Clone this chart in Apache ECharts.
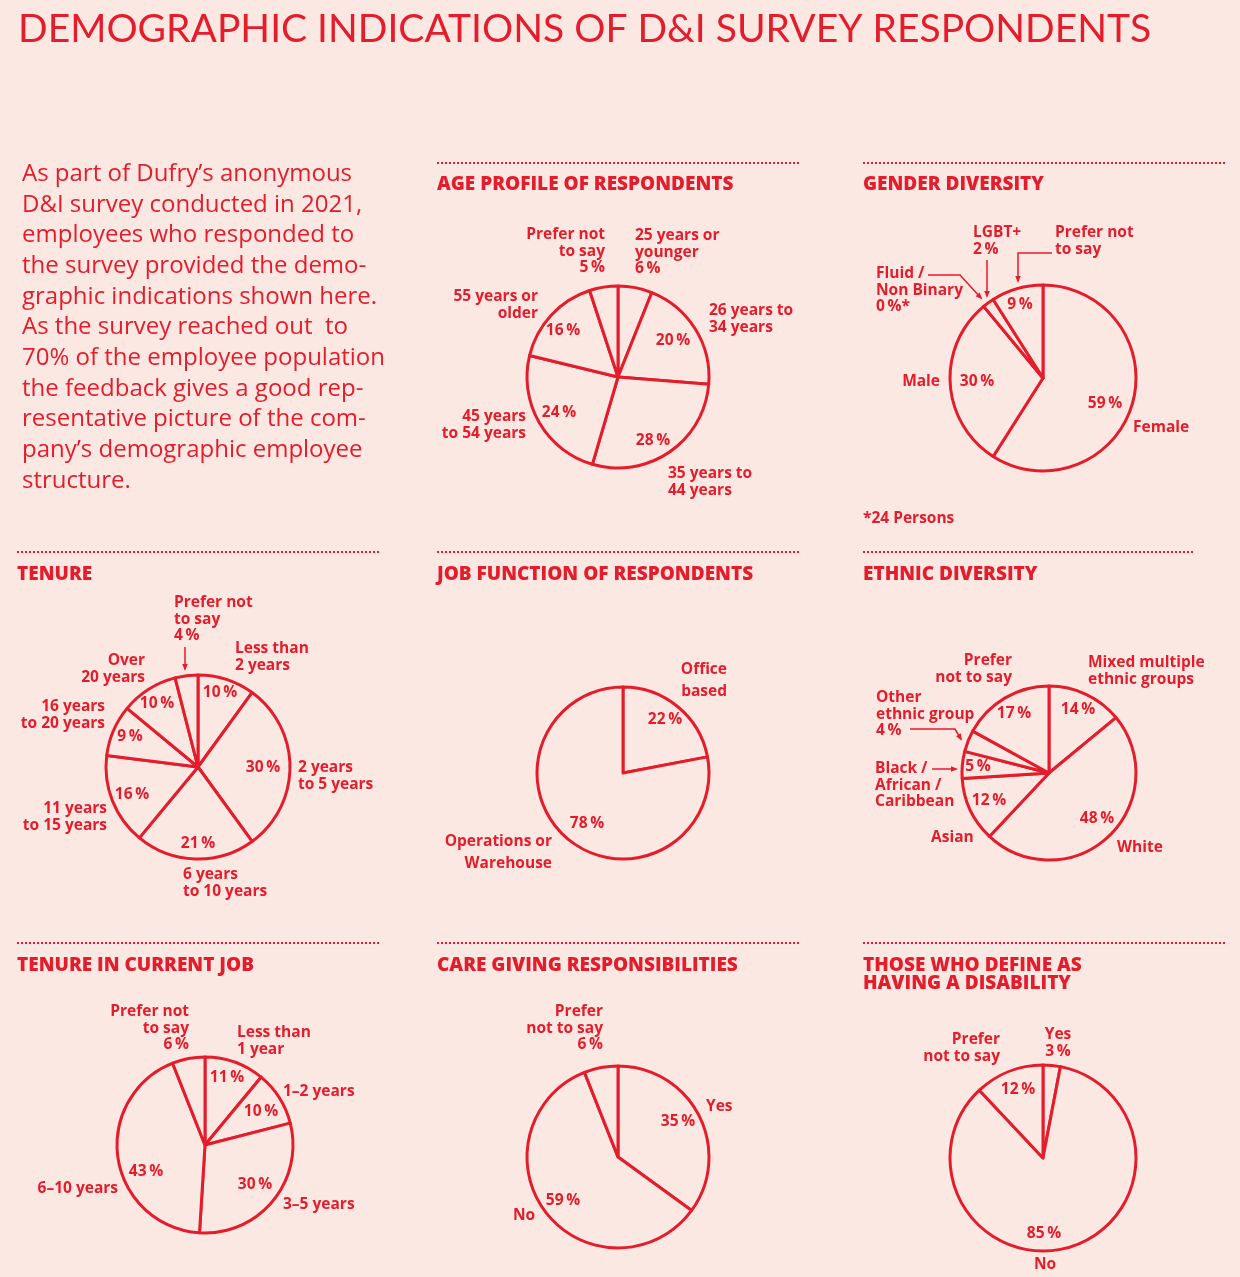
<!DOCTYPE html>
<html>
<head>
<meta charset="utf-8">
<script src="https://cdn.jsdelivr.net/npm/echarts@6/dist/echarts.min.js"></script>
<style>
  html, body { margin: 0; padding: 0; background: #fce8e2; }
  #chart { width: 1240px; height: 1277px; }
</style>
</head>
<body>
<div id="chart"></div>
<script>
// ---------------- DATA ----------------
const pageTitle = 'DEMOGRAPHIC INDICATIONS OF D&I SURVEY RESPONDENTS';
const introLines = [
  "As part of Dufry\u2019s anonymous",
  "D&I survey conducted in 2021,",
  "employees who responded to",
  "the survey provided the demo-",
  "graphic indications shown here.",
  "As the survey reached out  to",
  "70% of the employee population",
  "the feedback gives a good rep-",
  "resentative picture of the com-",
  "pany\u2019s demographic employee",
  "structure."
];

const ageCategories = ['25 years or\nyounger', '26 years to\n34 years', '35 years to\n44 years', '45 years\nto 54 years', '55 years or\nolder', 'Prefer not\nto say'];
const ageValues = [6, 20, 28, 24, 16, 5];

const genderCategories = ['Female', 'Male', 'Fluid /\nNon Binary', 'LGBT+', 'Prefer not\nto say'];
const genderValues = [59, 30, 0, 2, 9];
const genderNotes = ['', '', '*', '', ''];
const genderFootnote = '*24 Persons';

const tenureCategories = ['Less than\n2 years', '2 years\nto 5 years', '6 years\nto 10 years', '11 years\nto 15 years', '16 years\nto 20 years', 'Over\n20 years', 'Prefer not\nto say'];
const tenureValues = [10, 30, 21, 16, 9, 10, 4];

const jobCategories = ['Office\nbased', 'Operations or\nWarehouse'];
const jobValues = [22, 78];

const ethnicCategories = ['Mixed multiple\nethnic groups', 'White', 'Asian', 'Black /\nAfrican /\nCaribbean', 'Other\nethnic group', 'Prefer\nnot to say'];
const ethnicValues = [14, 48, 12, 5, 4, 17];

const currentJobCategories = ['Less than\n1 year', '1\u20132 years', '3\u20135 years', '6\u201310 years', 'Prefer not\nto say'];
const currentJobValues = [11, 10, 30, 43, 6];

const careCategories = ['Yes', 'No', 'Prefer\nnot to say'];
const careValues = [35, 59, 6];

const disabilityCategories = ['Yes', 'No', 'Prefer\nnot to say'];
const disabilityValues = [3, 85, 12];

// ---------------- STYLE / LAYOUT ----------------
const RED = '#e31d2c';
const BG = '#fce8e2';
const LBL_FONT = 'bold 15.5px "Open Sans", Lato, sans-serif';
const HDR_FONT = '800 19px "Open Sans", Lato, sans-serif';
const LH = 16.5;
const PSEP = '\u2009';

// label spec per slice: [nameX, nameY(first line centre), align, pctX, pctY]  (pctX null => percent appended under name)
const charts = [
  { title: 'AGE PROFILE OF RESPONDENTS', head: [437, 185], rule: [437, 800, 163],
    center: [618, 377], r: 91, cats: ageCategories, vals: ageValues,
    labels: [[635, 236, 'left', null], [709, 311, 'left', 673, 341], [668, 474, 'left', 653, 441],
             [526, 417, 'right', 559, 413], [538, 297, 'right', 563, 331], [605, 235, 'right', null]] },
  { title: 'GENDER DIVERSITY', head: [863, 185], rule: [863, 1225, 163],
    center: [1043, 378], r: 93, cats: genderCategories, vals: genderValues, notes: genderNotes,
    labels: [[1133, 428, 'left', 1105, 404], [940, 382, 'right', 977, 382], [876, 274, 'left', null],
             [973, 233, 'left', null], [1055, 233, 'left', 1020, 305]] },
  { title: 'TENURE', head: [17, 575], rule: [17, 380, 552],
    center: [198, 767], r: 92, cats: tenureCategories, vals: tenureValues,
    labels: [[235, 649, 'left', 220, 693], [298, 768, 'left', 263, 768], [183, 875, 'left', 198, 844],
             [107, 809, 'right', 132, 795], [105, 707, 'right', 130, 737], [145, 661, 'right', 157, 704],
             [174, 603, 'left', null]] },
  { title: 'JOB FUNCTION OF RESPONDENTS', head: [437, 575], rule: [437, 800, 552],
    center: [623, 773], r: 86, cats: jobCategories, vals: jobValues, lh: 22,
    labels: [[727, 670, 'right', 665, 720], [552, 842, 'right', 587, 824]] },
  { title: 'ETHNIC DIVERSITY', head: [863, 575], rule: [863, 1193, 552],
    center: [1049, 773], r: 87, cats: ethnicCategories, vals: ethnicValues,
    labels: [[1088, 663, 'left', 1078, 710], [1117, 848, 'left', 1097, 819], [931, 838, 'left', 989, 801],
             [875, 769, 'left', 978, 767], [876, 698, 'left', null], [1012, 661, 'right', 1014, 714]] },
  { title: 'TENURE IN CURRENT JOB', head: [17, 966], rule: [17, 380, 943],
    center: [205, 1145], r: 88, cats: currentJobCategories, vals: currentJobValues,
    labels: [[237, 1033, 'left', 227, 1078], [283, 1092, 'left', 261, 1112], [283, 1205, 'left', 255, 1185],
             [118, 1189, 'right', 146, 1172], [189, 1012, 'right', null]] },
  { title: 'CARE GIVING RESPONSIBILITIES', head: [437, 966], rule: [437, 800, 943],
    center: [618, 1157], r: 91, cats: careCategories, vals: careValues,
    labels: [[706, 1107, 'left', 678, 1122], [513, 1216, 'left', 563, 1201], [603, 1012, 'right', null]] },
  { title: 'THOSE WHO DEFINE AS\nHAVING A DISABILITY', head: [863, 966], rule: [863, 1225, 943],
    center: [1043, 1158], r: 93, cats: disabilityCategories, vals: disabilityValues,
    labels: [[1058, 1035, 'center', null], [1045, 1265, 'center', 1044, 1234], [1000, 1040, 'right', 1018, 1090]] }
];

// leader arrows (annotation lines)
const arrows = [
  [[928, 275], [960, 275], [981, 298]],
  [[987, 260], [987, 296]],
  [[1052, 253], [1018, 253], [1018, 281]],
  [[185, 647], [185, 669]],
  [[910, 729], [955, 729], [961, 739]],
  [[932, 769], [956, 769]]
];

// ---------------- BUILD ----------------
const graphics = [];
function txt(x, y, text, font, align, lh) {
  graphics.push({
    type: 'text', x: x, y: y - lh / 2, silent: true, z: 100,
    style: { text: text, fill: RED, font: font, align: align, verticalAlign: 'top', lineHeight: lh }
  });
}

txt(18, 29, pageTitle, '39px Lato, sans-serif', 'left', 46);
txt(22, 174, introLines.join('\n'), '24px "Open Sans", Lato, sans-serif', 'left', 30.7);
txt(863, 519, genderFootnote, LBL_FONT, 'left', LH);

const series = [];
charts.forEach(function (c) {
  graphics.push({ type: 'line', silent: true, z: 100,
    shape: { x1: c.rule[0], y1: c.rule[2], x2: c.rule[1], y2: c.rule[2] },
    style: { stroke: RED, lineWidth: 2, lineDash: [2, 2] } });
  txt(c.head[0], c.head[1], c.title, HDR_FONT, 'left', 18);

  series.push({
    type: 'pie', center: c.center, radius: c.r, startAngle: 90, clockwise: true,
    silent: true, animation: false, avoidLabelOverlap: false,
    label: { show: false }, labelLine: { show: false }, emphasis: { disabled: true },
    itemStyle: { color: BG, borderColor: RED, borderWidth: 3, borderJoin: 'round' },
    data: c.cats.map(function (n, i) { return { name: n, value: c.vals[i] }; })
  });

  const lh = c.lh || LH;
  c.labels.forEach(function (L, i) {
    const pct = c.vals[i] + PSEP + '%' + (c.notes ? c.notes[i] : '');
    if (L[3] == null) {
      txt(L[0], L[1], c.cats[i] + '\n' + pct, LBL_FONT, L[2], lh);
    } else {
      txt(L[0], L[1], c.cats[i], LBL_FONT, L[2], lh);
      txt(L[3], L[4], pct, LBL_FONT, 'center', lh);
    }
  });
});

arrows.forEach(function (pts) {
  graphics.push({ type: 'polyline', silent: true, z: 100, shape: { points: pts },
    style: { stroke: RED, lineWidth: 1.5, fill: null } });
  const a = pts[pts.length - 2], b = pts[pts.length - 1];
  const dx = b[0] - a[0], dy = b[1] - a[1], len = Math.sqrt(dx * dx + dy * dy);
  const ux = dx / len, uy = dy / len, s = 5;
  graphics.push({ type: 'polygon', silent: true, z: 100,
    shape: { points: [[b[0] + ux * 2, b[1] + uy * 2],
      [b[0] - ux * s - uy * s * 0.55, b[1] - uy * s + ux * s * 0.55],
      [b[0] - ux * s + uy * s * 0.55, b[1] - uy * s - ux * s * 0.55]] },
    style: { fill: RED } });
});

const chart = echarts.init(document.getElementById('chart'), null, { renderer: 'canvas' });
chart.setOption({
  backgroundColor: BG,
  animation: false,
  series: series,
  graphic: { elements: graphics }
});
</script>
</body>
</html>
